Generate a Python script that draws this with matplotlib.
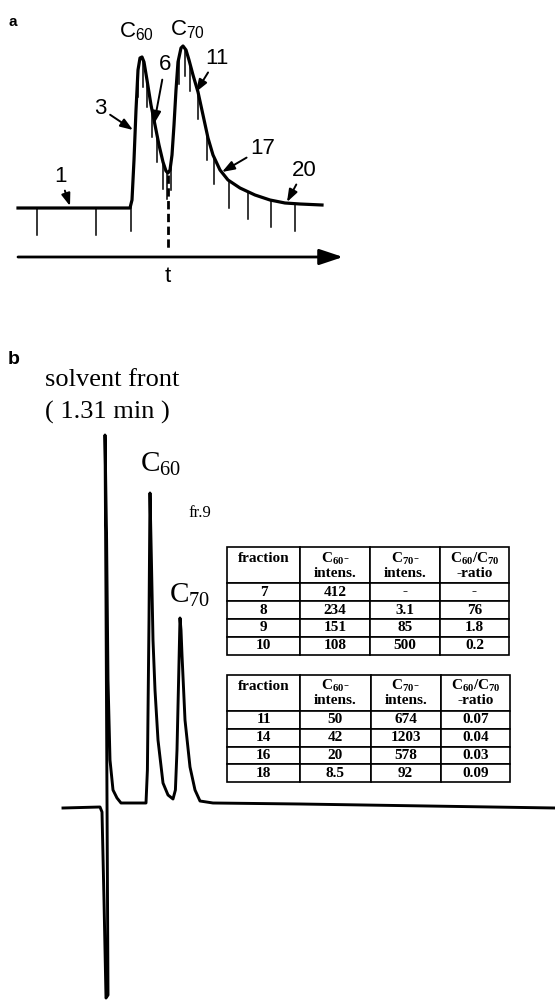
import numpy as np
import matplotlib
matplotlib.use("Agg")
import matplotlib.pyplot as plt

# mathtext fonts: serif for panel b, sans for panel a
plt.rcParams['mathtext.fontset'] = 'custom'
plt.rcParams['mathtext.rm'] = 'Liberation Serif'
plt.rcParams['mathtext.bf'] = 'Liberation Serif:bold'
plt.rcParams['mathtext.sf'] = 'Liberation Sans'

SANS = ['Liberation Sans', 'DejaVu Sans']
SERIF = ['Liberation Serif', 'DejaVu Serif']

# ---- panel a: schematic fraction collection (arbitrary units) ----
a_time = [0, 112, 114, 116, 118, 120, 122, 124, 126, 129, 133, 137, 141, 145,
          148, 150, 152, 154, 156, 158, 160, 163, 165, 168, 171, 175, 180, 185,
          190, 195, 202, 210, 222, 237, 252, 267, 282, 304]
a_signal = [0, 0, 8, 48, 98, 138, 150, 151, 146, 128, 103, 83, 63, 46,
            37, 35, 38, 53, 83, 118, 146, 160, 162, 158, 148, 133, 116, 93,
            70, 53, 38, 28, 20, 13, 8, 5, 4, 3]
a_cuts = [19, 78, 113, 120, 125, 129, 134, 139, 145, 149, 153, 161, 167, 172,
          180, 189, 196, 211, 230, 253, 277]
a_mark_len = 27
a_split = 150  # dashed line between C60 and C70 fractions

# annotated fraction numbers: label, text position, arrow head
a_labels = ['1', '3', '6', '11', '17', '20']
a_text_t = [42, 82, 147, 199, 245, 286]
a_text_s = [32, 100, 143, 150, 60, 38]
a_head_t = [52, 115, 136, 178, 204, 269]
a_head_s = [2, 78, 84, 116, 36, 6]

# ---- panel b: HPLC chromatogram (time in min) ----
b_time = [0.26, 1.185, 1.235, 1.285, 1.335, 1.385, 1.36, 1.335, 1.31, 1.35,
          1.385, 1.435, 1.51, 1.61, 1.71, 2.335, 2.37, 2.41, 2.435, 2.47,
          2.51, 2.56, 2.635, 2.76, 2.885, 3.01, 3.07, 3.11, 3.15, 3.185,
          3.21, 3.235, 3.31, 3.435, 3.56, 3.685, 4.01, 6.185, 12.56]
b_signal = [-2, -1, -6, -94, -192, -189, 6, 206, 371, 266,
            126, 46, 16, 8, 3, 3, 36, 186, 313, 246,
            166, 116, 66, 23, 11, 7, 16, 56, 126, 188,
            176, 151, 86, 39, 16, 5, 3, 2, -2]

col_labels = ['fraction\n ', r'$\mathbf{C_{60}}$-' + '\nintens.',
              r'$\mathbf{C_{70}}$-' + '\nintens.',
              r'$\mathbf{C_{60}/C_{70}}$' + '\n-ratio']
col_widths = [73, 70, 70, 69]

fraction_1 = ['7', '8', '9', '10']
c60_1 = ['412', '234', '151', '108']
c70_1 = ['-', '3.1', '85', '500']
ratio_1 = ['-', '76', '1.8', '0.2']

fraction_2 = ['11', '14', '16', '18']
c60_2 = ['50', '42', '20', '8.5']
c70_2 = ['674', '1203', '578', '92']
ratio_2 = ['0.07', '0.04', '0.03', '0.09']

fig = plt.figure(figsize=(5.55, 10), dpi=100)

# ================= panel a =================
ax = fig.add_axes([0, 0.71, 1, 0.29])
ax.set_xlim(-18, 537)
ax.set_ylim(-82, 208)
ax.axis('off')

ax.plot(a_time, a_signal, color='black', lw=2.3, solid_joinstyle='round')
for t in a_cuts:
    top = np.interp(t, a_time, a_signal)
    ax.plot([t, t], [top, top - a_mark_len], color='black', lw=1.1)
ax.plot([a_split, a_split], [33, -42], color='black', lw=2,
        linestyle=(0, (3, 1.6)))

ax.annotate('', xy=(325, -49), xytext=(0, -49),
            arrowprops=dict(arrowstyle='-|>,head_length=0.9,head_width=0.3',
                            lw=2, color='black', shrinkA=0, shrinkB=0,
                            mutation_scale=16))
ax.text(150, -68, 't', ha='center', va='center', fontsize=16, family=SANS)

for lab, tx, sy, hx, hy in zip(a_labels, a_text_t, a_text_s, a_head_t, a_head_s):
    ax.annotate(lab, xy=(hx, hy), xytext=(tx, sy), ha='center', va='center',
                fontsize=16, family=SANS,
                arrowprops=dict(arrowstyle='-|>,head_length=0.5,head_width=0.18',
                                lw=1.4, color='black', shrinkA=1, shrinkB=0,
                                mutation_scale=15))

ax.text(119, 176, r'$\mathsf{C_{60}}$', ha='center', va='center', fontsize=16)
ax.text(170, 178, r'$\mathsf{C_{70}}$', ha='center', va='center', fontsize=16)
ax.text(-5, 186, 'a', ha='center', va='center', fontsize=11,
        fontweight='bold', family=SANS)

# ================= panel b =================
bx = fig.add_axes([0, 0, 1, 0.67])
bx.set_xlim(-1.315, 12.56)
bx.set_ylim(-194, 476)
bx.axis('off')

bx.plot(b_time, b_signal, color='black', lw=2.1, solid_joinstyle='round')

bx.text(-0.965, 446, 'b', ha='center', va='center', fontsize=14,
        fontweight='bold', family=SANS)
bx.text(-0.19, 426, 'solvent front', ha='left', va='center', fontsize=19,
        family=SERIF)
bx.text(-0.19, 394, '( 1.31 min )', ha='left', va='center', fontsize=19,
        family=SERIF)
bx.text(2.71, 342, r'$\mathrm{C_{60}}$', ha='center', va='center', fontsize=21)
bx.text(3.435, 211, r'$\mathrm{C_{70}}$', ha='center', va='center', fontsize=21)
bx.text(3.685, 293, 'fr.9', ha='center', va='center', fontsize=12,
        family=SERIF)


def draw_table(axis, rows, bbox):
    cell_text = [list(r) for r in zip(*rows)]
    tbl = axis.table(cellText=cell_text, colLabels=col_labels,
                     colWidths=[w / sum(col_widths) for w in col_widths],
                     cellLoc='center', bbox=bbox)
    tbl.auto_set_font_size(False)
    for (r, c), cell in tbl.get_celld().items():
        cell.set_height(2.0 if r == 0 else 1.0)
        cell.set_linewidth(1.2)
        cell.set_edgecolor('black')
        txt = cell.get_text()
        txt.set_fontsize(11)
        txt.set_fontfamily(SERIF)
        txt.set_fontweight('bold')
        txt.set_linespacing(1.0)
    return tbl


draw_table(bx, [fraction_1, c60_1, c70_1, ratio_1], [0.409, 0.515, 0.508, 0.161])
draw_table(bx, [fraction_2, c60_2, c70_2, ratio_2], [0.409, 0.325, 0.510, 0.160])

fig.savefig('out.png', dpi=100)
